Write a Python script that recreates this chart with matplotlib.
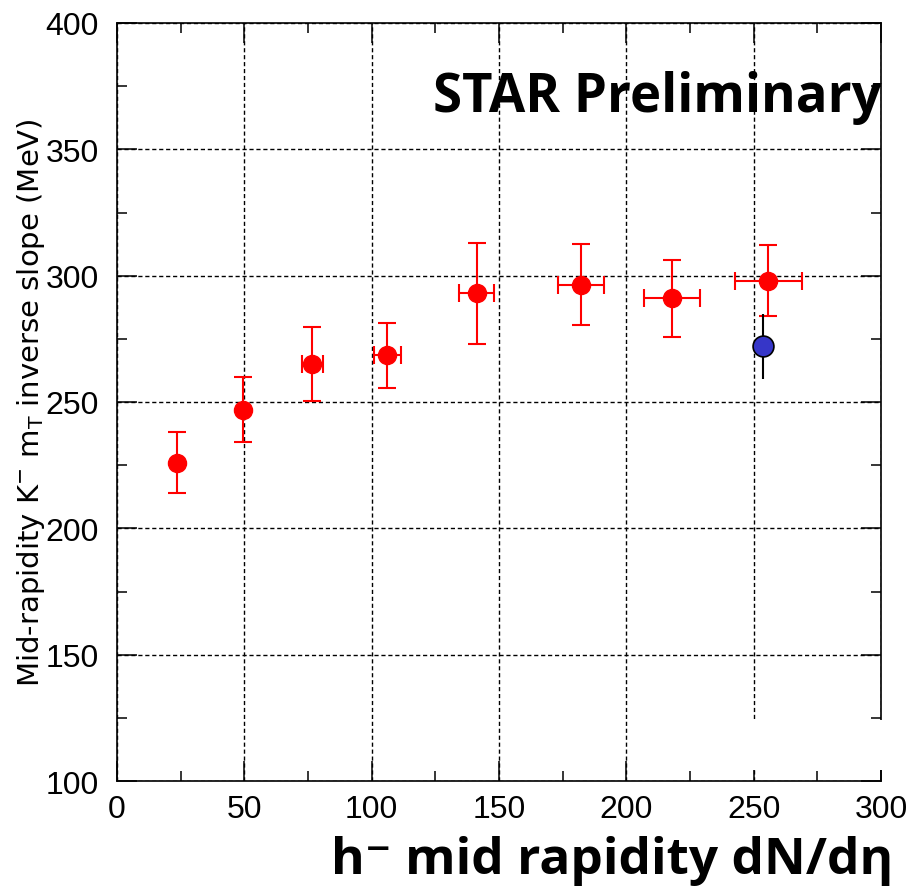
import numpy as np
import matplotlib.pyplot as plt
from matplotlib.patches import Rectangle
from matplotlib.ticker import MultipleLocator

# STAR Au+Au points (red)
dndeta = [23.7, 49.3, 76.7, 106.1, 141.2, 182.3, 218.0, 255.8]
dndeta_err = [0, 0, 4, 5.3, 7, 9, 11, 13]
slope = [226, 247, 265, 268.5, 293, 296.5, 291, 298]
slope_err = [12, 13, 14.5, 12.8, 20, 16, 15.3, 14]

# single blue point
blue_x = [253.5]
blue_y = [272]
blue_err = [12.8]

fig = plt.figure(figsize=(9.09, 8.87), dpi=100)
ax = fig.add_axes([117/909, 1-782/887, 764/909, 758/887])

ax.errorbar(dndeta, slope, xerr=dndeta_err, yerr=slope_err, fmt='o', color='#ff0000',
            ms=13, elinewidth=1.5, capsize=6.5, capthick=1.5, zorder=5)
ax.errorbar(blue_x, blue_y, yerr=blue_err, fmt='o', color='black', mfc='#3636c8', mec='black',
            mew=1.2, ms=15, elinewidth=1.5, capsize=0, zorder=6)

ax.set_xlim(0, 300)
ax.set_ylim(100, 400)
ax.xaxis.set_major_locator(MultipleLocator(50))
ax.xaxis.set_minor_locator(MultipleLocator(25))
ax.yaxis.set_major_locator(MultipleLocator(50))
ax.yaxis.set_minor_locator(MultipleLocator(25))
ax.tick_params(which='both', direction='in', top=True, right=True, width=1.1, color='black')
ax.tick_params(which='major', length=14.5)
ax.tick_params(which='minor', length=7.5)
ax.tick_params(axis='both', labelsize=23)
ax.tick_params(axis='y', pad=13)
ax.tick_params(axis='x', pad=9)
for lab in ax.get_xticklabels() + ax.get_yticklabels():
    lab.set_fontfamily('Liberation Sans')
for sp in ax.spines.values():
    sp.set_linewidth(1.2)

ax.grid(True, which='major', color='black', linestyle=(0, (3, 2)), linewidth=1.0)

plt.rcParams['mathtext.fontset'] = 'dejavusans'
fig.text(31/909, 1-403/887, r'Mid-rapidity K$^{-}$ m$_{\mathrm{T}}$ inverse slope (MeV)',
         rotation=90, ha='center', va='center', fontsize=21, family='DejaVu Sans')

fig.text(433/909, 1-112/887, 'STAR Preliminary', ha='left', va='baseline',
         fontsize=38, fontweight='bold', family='Open Sans')

fig.text(893/909, 1-874/887, 'h\u207b mid rapidity dN/d\u03b7', ha='right', va='baseline',
         fontsize=37, fontweight='bold', family=['Open Sans', 'DejaVu Sans'])

# white patch over lower right corner as in the original
fig.patches.append(Rectangle((748/909, 1-771/887), (909-748)/909, 50/887,
                             transform=fig.transFigure, facecolor='white',
                             edgecolor='none', zorder=10))

fig.savefig('out.png', dpi=100)
